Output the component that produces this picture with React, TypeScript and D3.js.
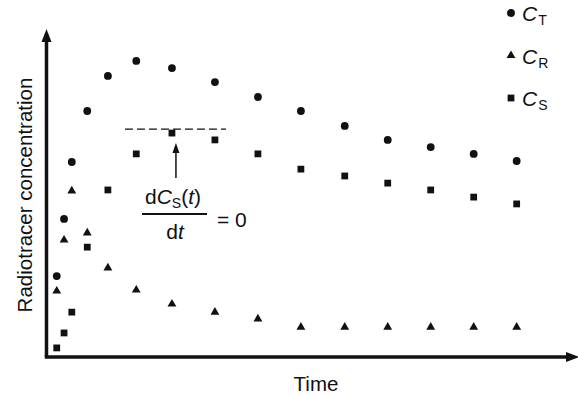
import * as d3 from "d3";

// sampling times (min) and the three curves (arbitrary units, 0-100)
const times = [2.5, 4.2, 6, 9.6, 14.4, 21, 29.3, 39.3, 49.3, 59.3, 69.5, 79.5, 89.5, 99.5, 109.5];
const cT = [24.9, 42.5, 60, 75.7, 86.5, 91.1, 88.9, 84.6, 80, 75.7, 71.1, 66.8, 64.6, 62.5, 60.3];
const cR = [20.3, 36, 51.1, 38.2, 27.4, 20.6, 16.3, 13.8, 11.7, 9.2, 9.2, 9.2, 9.2, 9.2, 9.2];
const cS = [2.8, 7.4, 13.8, 33.8, 51.4, 62.5, 68.9, 66.8, 62.5, 57.8, 55.7, 53.5, 51.4, 49.2, 47.1];

const seriesNames = ["T", "R", "S"];
const seriesValues = [cT, cR, cS];

const width = 578;
const height = 397;
const ink = "#111";
const font = "'Liberation Sans', Arial, Helvetica, sans-serif";

export default function App() {
  const x = d3.scaleLinear().domain([0, 124]).range([46, 579]);
  const y = d3.scaleLinear().domain([0, 100]).range([357, 32]);

  const shapes = [d3.symbolCircle, d3.symbolTriangle, d3.symbolSquare];
  const sizes = [48, 34, 46];
  const symbolPath = (i: number) => d3.symbol().type(shapes[i]).size(sizes[i])() as string;

  // peak of C_S, where dC_S/dt = 0
  const peakIdx = d3.maxIndex(cS);
  const px = x(times[peakIdx]);
  const py = y(cS[peakIdx]);

  return (
    <svg
      width={width}
      height={height}
      style={{ position: "absolute", left: 0, top: 0, background: "#fff", fontFamily: font }}
    >
      <defs>
        <marker id="arrowUp" viewBox="0 0 10 10" refX="5" refY="0" markerWidth="10" markerHeight="10" orient="0" markerUnits="userSpaceOnUse">
          <path d="M5,0 L0,10 L10,10 Z" fill={ink} />
        </marker>
      </defs>

      {/* axes */}
      <line x1={46.5} y1={357} x2={46.5} y2={40} stroke={ink} strokeWidth={3.5} />
      <path d="M46.5,29 L41.5,42 L51.5,42 Z" fill={ink} />
      <line x1={44.75} y1={357} x2={568} y2={357} stroke={ink} strokeWidth={3.5} />
      <path d="M579,357 L566,352 L566,362 Z" fill={ink} />

      {/* axis titles */}
      <text
        transform={`translate(32,195) rotate(-90)`}
        textAnchor="middle"
        fontSize={20.5}
        fill={ink}
      >
        Radiotracer concentration
      </text>
      <text x={316} y={391} textAnchor="middle" fontSize={20.5} fill={ink}>
        Time
      </text>

      {/* data points */}
      {seriesValues.map((vals, si) => (
        <g key={seriesNames[si]}>
          {vals.map((v, i) => (
            <path
              key={i}
              d={symbolPath(si)}
              transform={`translate(${x(times[i])},${y(v)})`}
              fill={ink}
            />
          ))}
        </g>
      ))}

      {/* tangent at the C_S maximum */}
      <line
        x1={px - 47}
        x2={px + 54}
        y1={py - 4}
        y2={py - 4}
        stroke={ink}
        strokeWidth={1.3}
        strokeDasharray="8 4"
      />
      <line x1={px + 4} x2={px + 4} y1={178} y2={150} stroke={ink} strokeWidth={1.5} />
      <path d={`M${px + 4},${py + 10} L${px + 0.5},${py + 20} L${px + 7.5},${py + 20} Z`} fill={ink} />

      {/* dC_S(t)/dt = 0 */}
      <text x={173} y={204} textAnchor="middle" fontSize={21} fill={ink}>
        d<tspan fontStyle="italic">C</tspan>
        <tspan fontSize={14} dy={4}>S</tspan>
        <tspan dy={-4}>(</tspan>
        <tspan fontStyle="italic">t</tspan>)
      </text>
      <line x1={142} x2={207} y1={214} y2={214} stroke={ink} strokeWidth={2} />
      <text x={175} y={239} textAnchor="middle" fontSize={21} fill={ink}>
        d<tspan fontStyle="italic">t</tspan>
      </text>
      <text x={217} y={227} fontSize={21} fill={ink}>
        = 0
      </text>

      {/* legend */}
      {seriesNames.map((name, i) => {
        const ly = 13 + i * 42.5;
        return (
          <g key={name}>
            <path d={symbolPath(i)} transform={`translate(511,${ly})`} fill={ink} />
            <text x={522} y={ly + 8} fontSize={21} fill={ink}>
              <tspan fontStyle="italic">C</tspan>
              <tspan fontSize={14} dy={4} dx={1}>
                {name}
              </tspan>
            </text>
          </g>
        );
      })}
    </svg>
  );
}
